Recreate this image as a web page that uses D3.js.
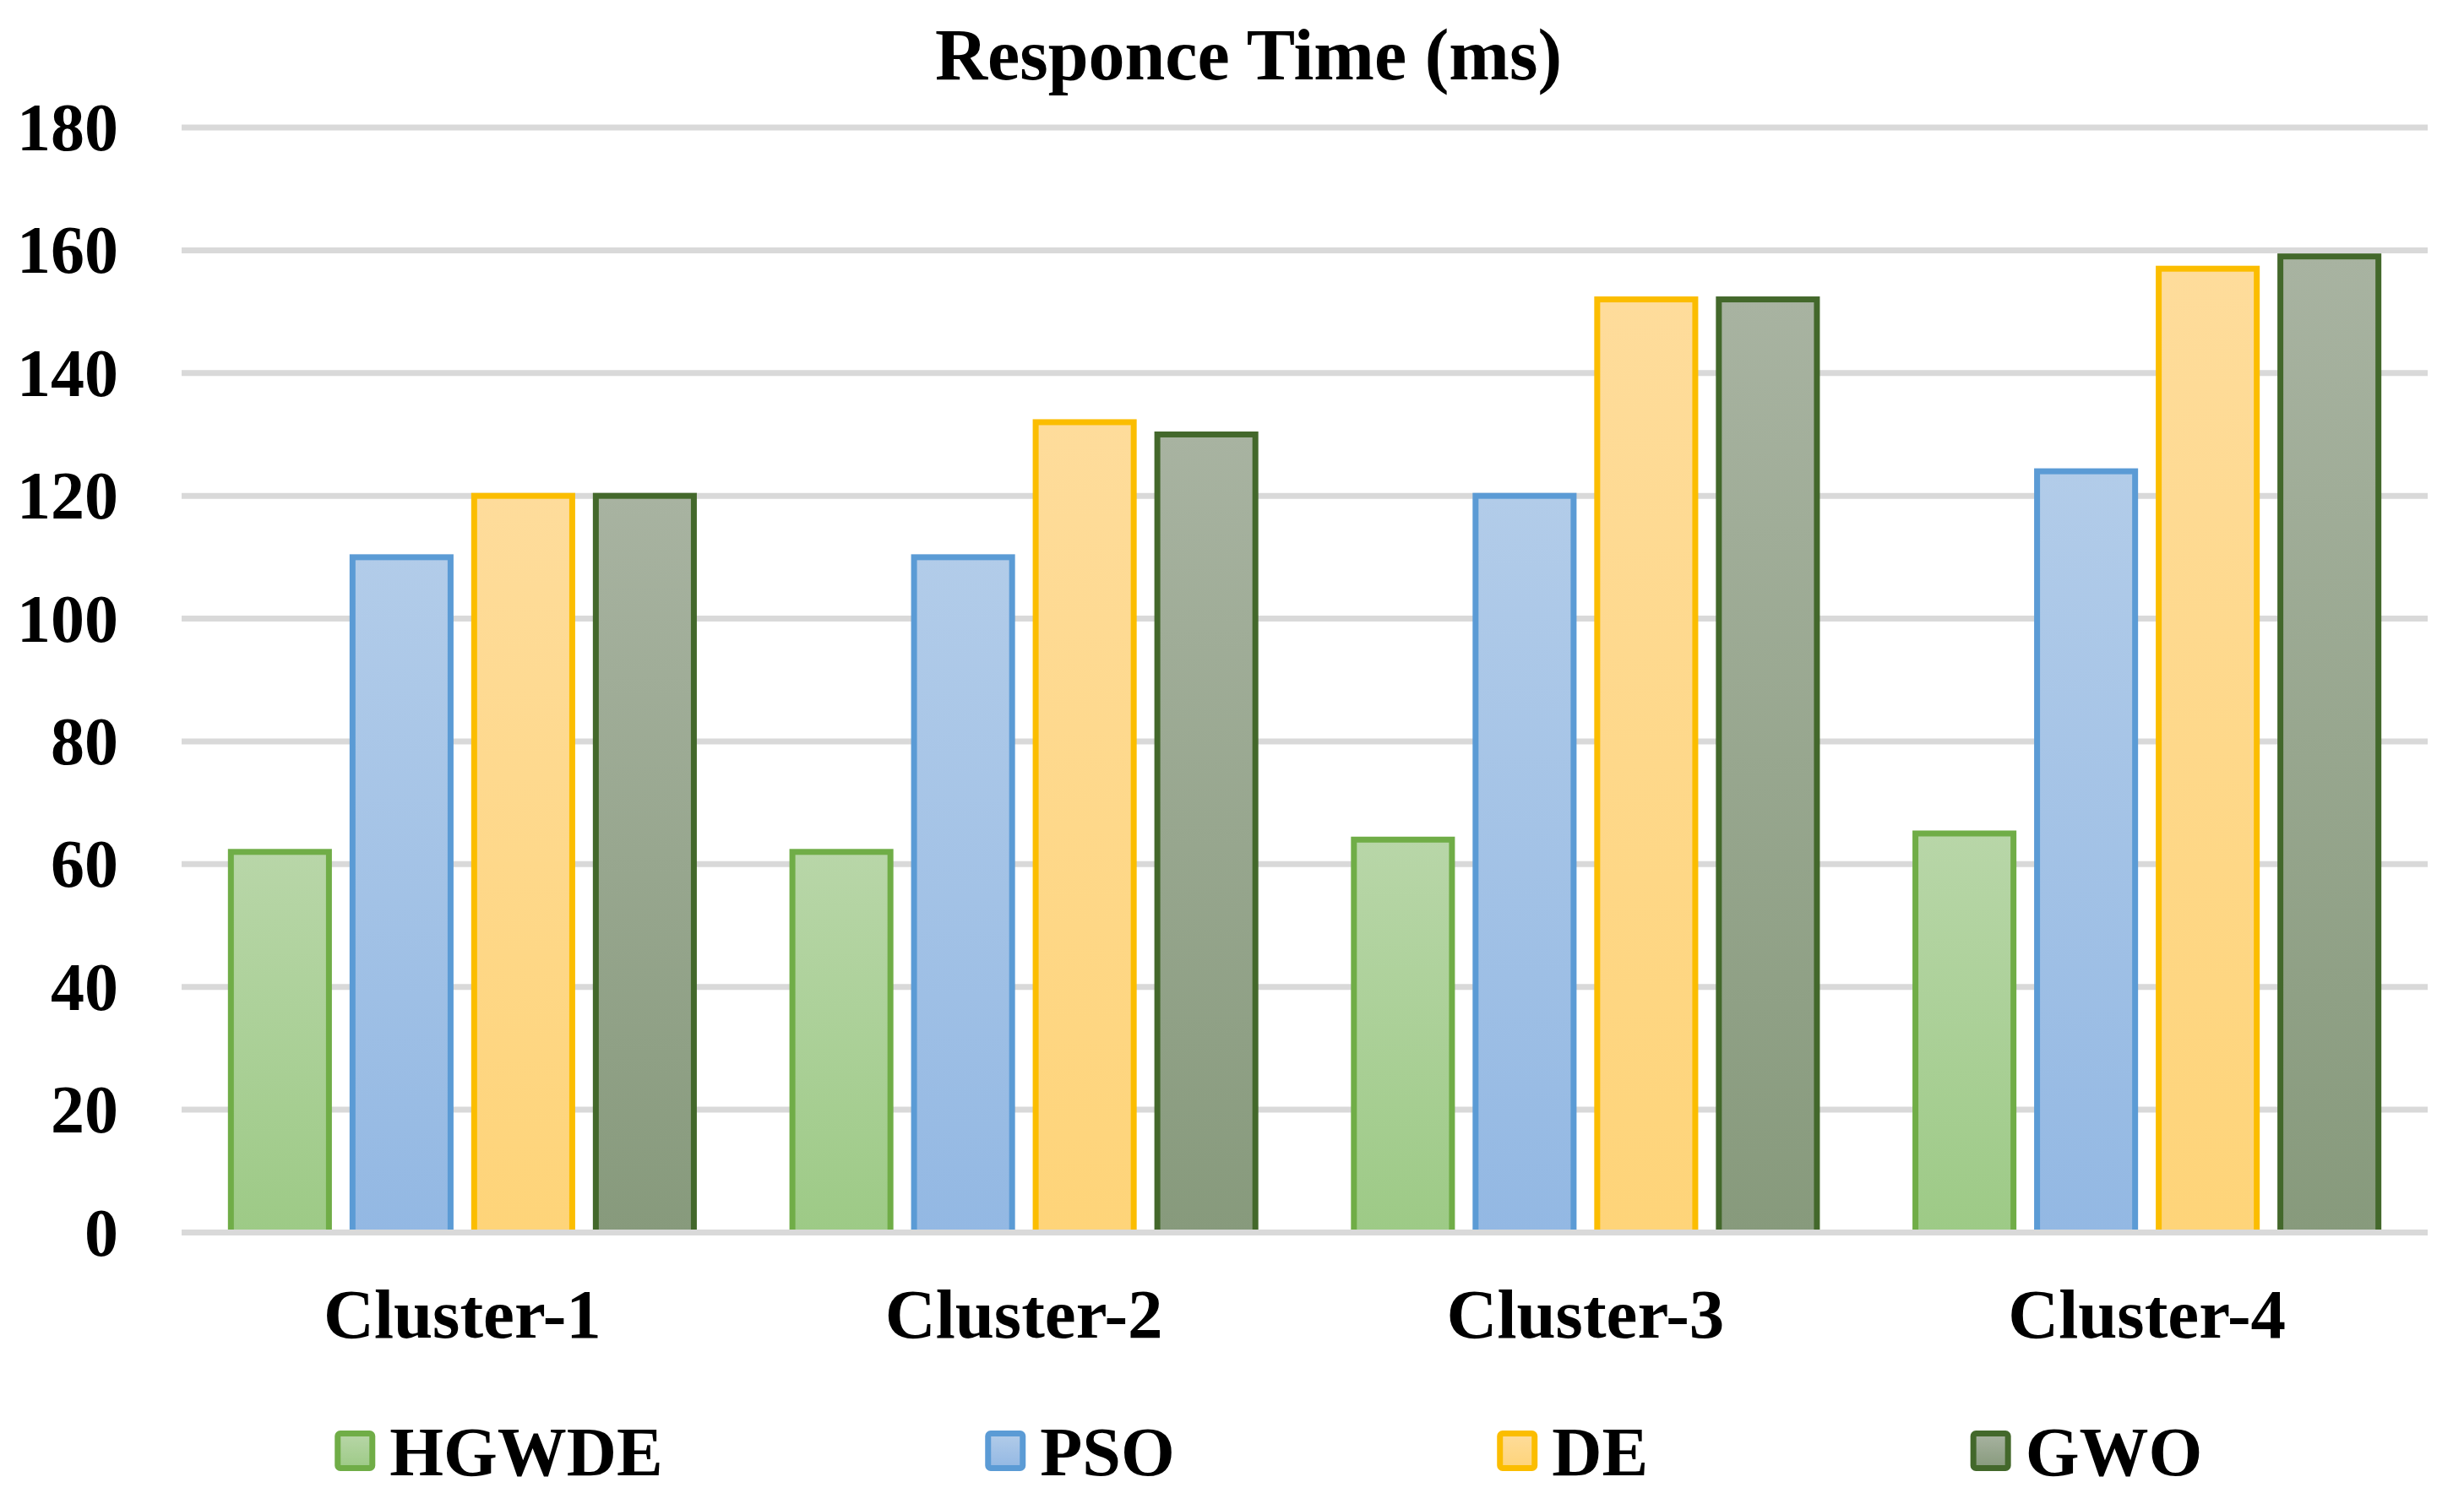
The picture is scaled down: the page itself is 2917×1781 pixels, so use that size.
<!DOCTYPE html>
<html>
<head>
<meta charset="utf-8">
<script src="https://cdn.jsdelivr.net/npm/d3@7"></script>
<style>
  body { margin: 0; background: #fff; }
  text { font-family: "Liberation Serif", "Times New Roman", serif; font-weight: bold; fill: #000; }
</style>
</head>
<body>
<svg id="chart" width="2917" height="1781"></svg>
<script>
var clusters = ["Cluster-1", "Cluster-2", "Cluster-3", "Cluster-4"];
var series = ["HGWDE", "PSO", "DE", "GWO"];
var hgwde = [62, 62, 64, 65];
var pso = [110, 110, 120, 124];
var de = [120, 132, 152, 157];
var gwo = [120, 130, 152, 159];
var yTicks = [0, 20, 40, 60, 80, 100, 120, 140, 160, 180];
var title = "Responce Time (ms)";

var strokes = ["#70ad47", "#5b9bd5", "#fbbd00", "#43682b"];
var tops = ["#b8d6a8", "#b2cce9", "#fedc9b", "#a8b3a1"];
var bottoms = ["#9dca86", "#93b8e3", "#fed479", "#879a7c"];

var values = [hgwde, pso, de, gwo];
var table = clusters.map(function (c, i) {
    return { cluster: c, vals: series.map(function (s, j) { return { key: s, idx: j, v: values[j][i] }; }) };
});

var plotLeft = 215, plotRight = 2874, plotTop = 151, plotBottom = 1459.5;
var svg = d3.select("#chart");

var defs = svg.append("defs");
series.forEach(function (s, j) {
    var g = defs.append("linearGradient").attr("id", "grad" + j)
        .attr("x1", 0).attr("y1", 0).attr("x2", 0).attr("y2", 1);
    g.append("stop").attr("offset", "0%").attr("stop-color", tops[j]);
    g.append("stop").attr("offset", "100%").attr("stop-color", bottoms[j]);
});

var y = d3.scaleLinear().domain([0, 180]).range([plotBottom, plotTop]);
var x0 = d3.scaleBand().domain(clusters).range([plotLeft, plotRight]).padding(0);
var x1 = d3.scaleBand().domain(series).range([0, x0.bandwidth()])
    .paddingInner(0.194).paddingOuter(0.405);

// gridlines
svg.append("g").selectAll("line").data(yTicks.filter(function (t) { return t > 0; }))
    .enter().append("line")
    .attr("x1", plotLeft).attr("x2", plotRight)
    .attr("y1", function (d) { return y(d); }).attr("y2", function (d) { return y(d); })
    .attr("stroke", "#d9d9d9").attr("stroke-width", 7);

// bars
var groups = svg.append("g").selectAll("g").data(table).enter().append("g")
    .attr("transform", function (d) { return "translate(" + x0(d.cluster) + ",0)"; });
groups.selectAll("rect").data(function (d) { return d.vals; }).enter().append("rect")
    .attr("x", function (d) { return x1(d.key); })
    .attr("width", x1.bandwidth())
    .attr("y", function (d) { return y(d.v); })
    .attr("height", function (d) { return y(0) - y(d.v); })
    .attr("fill", function (d) { return "url(#grad" + d.idx + ")"; })
    .attr("stroke", function (d) { return strokes[d.idx]; })
    .attr("stroke-width", 7);

// baseline on top
svg.append("line").attr("x1", plotLeft).attr("x2", plotRight)
    .attr("y1", y(0)).attr("y2", y(0))
    .attr("stroke", "#d9d9d9").attr("stroke-width", 7);

// y tick labels
svg.append("g").selectAll("text").data(yTicks).enter().append("text")
    .attr("x", 140).attr("y", function (d) { return y(d) + 27; })
    .attr("text-anchor", "end").attr("font-size", 80)
    .text(function (d) { return d; });

// x labels
svg.append("g").selectAll("text").data(clusters).enter().append("text")
    .attr("x", function (d) { return x0(d) + x0.bandwidth() / 2; })
    .attr("y", 1584).attr("text-anchor", "middle").attr("font-size", 83)
    .text(function (d) { return d; });

// title
svg.append("text").attr("x", 1478).attr("y", 94).attr("text-anchor", "middle")
    .attr("font-size", 86).text(title);

// legend
var legend = svg.append("g");
var items = legend.selectAll("g").data(series).enter().append("g");
items.append("rect").attr("x", 3.5).attr("y", -20.5).attr("width", 41).attr("height", 41)
    .attr("rx", 3)
    .attr("fill", function (d, j) { return "url(#grad" + j + ")"; })
    .attr("stroke", function (d, j) { return strokes[j]; })
    .attr("stroke-width", 7);
items.append("text").attr("x", 65).attr("y", 29).attr("font-size", 82)
    .text(function (d) { return d; });
var gap = 385, pos = 0, offs = [];
items.each(function () {
    offs.push(pos);
    pos += this.getBBox().width + gap;
});
var total = pos - gap;
var startX = 1500 - total / 2;
items.attr("transform", function (d, j) { return "translate(" + (startX + offs[j]) + ",1718)"; });
</script>
</body>
</html>
